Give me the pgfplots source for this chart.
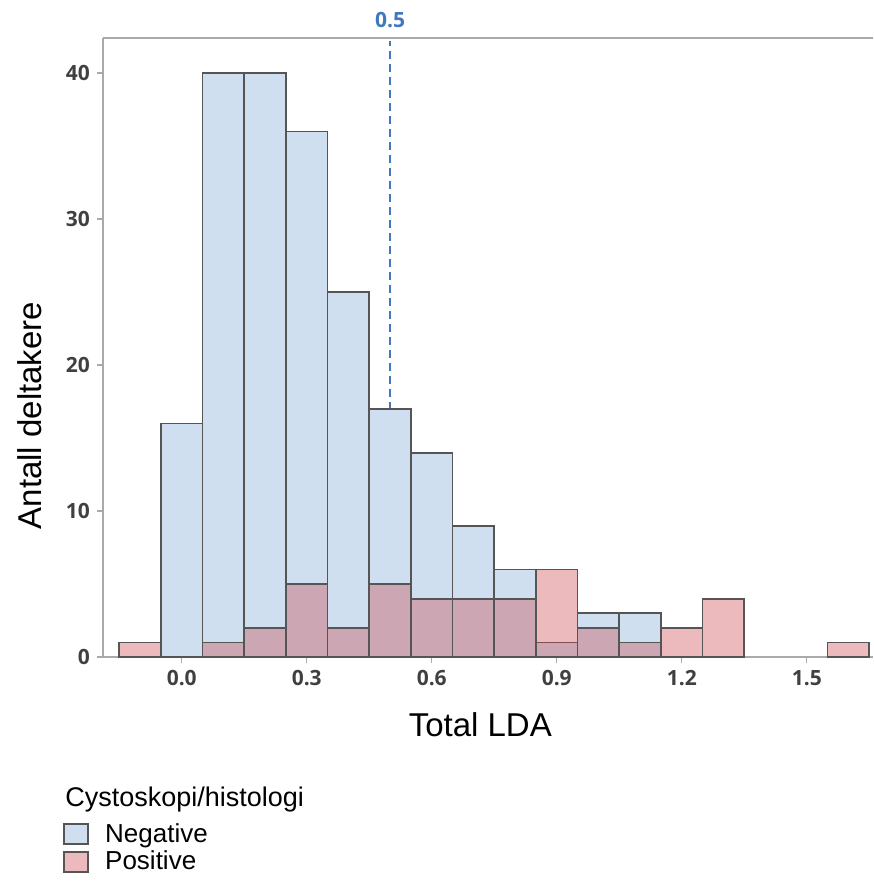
\documentclass[border=0pt]{standalone}
\usepackage{fontspec}
\setmainfont{Liberation Sans}
\newfontfamily\tickfont{Open Sans}
\usepackage{pgfplots}
\pgfplotsset{compat=1.18}

\definecolor{NegBlue}{RGB}{207,223,240}
\definecolor{PosRed}{RGB}{204,69,77}
\definecolor{BarEdge}{RGB}{85,85,85}
\definecolor{AxisGrey}{RGB}{170,170,170}
\definecolor{TickText}{RGB}{64,64,64}
\definecolor{RefBlue}{RGB}{66,118,190}

% counts per bin (bin width 0.1, centred on the value)
\pgfplotstableread{
x     n
0.0   16
0.1   40
0.2   40
0.3   36
0.4   25
0.5   17
0.6   14
0.7   9
0.8   6
0.9   1
1.0   3
1.1   3
}\negdata
\pgfplotstableread{
x     n
-0.1  1
0.1   1
0.2   2
0.3   5
0.4   2
0.5   5
0.6   4
0.7   4
0.8   4
0.9   6
1.0   2
1.1   1
1.2   2
1.3   4
1.6   1
}\posdata

\begin{document}
\begin{tikzpicture}
\useasboundingbox (-51.5pt,-115.5pt) rectangle (385pt,328.5pt);
\begin{axis}[
    scale only axis,
    width=385pt, height=309.5pt,
    xmin=-0.189, xmax=1.659,
    ymin=0, ymax=42.4,
    ybar, bar width=0.1, bar shift=0pt,
    clip=false,
    axis x line*=box, axis y line*=left,
    axis line style={draw=AxisGrey, line width=0.9pt, -},
    xtick={0,0.3,0.6,0.9,1.2,1.5},
    ytick={0,10,20,30,40},
    xtick pos=bottom,
    tick align=outside,
    major tick length=3pt,
    tick style={draw=AxisGrey, line width=0.6pt},
    /pgf/number format/assume math mode=true,
    tick label style={font=\tickfont\bfseries\fontsize{10.5}{12}\selectfont, color=TickText},
    xticklabel style={/pgf/number format/.cd, fixed, fixed zerofill, precision=1},
    every axis y label/.style={at={([xshift=-36.5pt]axis description cs:0,0.39)}, rotate=90, anchor=center},
    every axis x label/.style={at={([yshift=-34pt]axis description cs:0.49,0)}, anchor=center},
    label style={font=\fontsize{16.5}{18}\selectfont},
    xlabel={Total LDA},
    ylabel={Antall deltakere},
    legend style={at={(axis description cs:0,0)}, anchor=north west,
        xshift=-23pt, yshift=-79pt, draw=none, fill=none,
        font=\fontsize{13}{15}\selectfont, row sep=-1.2pt,
        nodes={inner xsep=8pt},
        legend cell align=left},
    legend image code/.code={\draw[#1, line width=0.9pt] (0pt,-5pt) rectangle (12pt,5pt);},
]
\addplot[sharp plot, draw=RefBlue, line width=1pt, dash pattern=on 4pt off 2.5pt, forget plot]
    coordinates {(0.5,0) (0.5,42.2)};

% fills first, then outlines, so neighbouring bars do not hide each other's edges
\addplot[fill=NegBlue, draw=none, forget plot] table[x=x, y=n] {\negdata};
\addplot[fill=none, draw=BarEdge, line width=0.9pt, forget plot] table[x=x, y=n] {\negdata};
\addplot[fill=PosRed, fill opacity=0.37, draw=none, forget plot] table[x=x, y=n] {\posdata};
\addplot[fill=none, draw=BarEdge, line width=0.9pt, forget plot] table[x=x, y=n] {\posdata};

\addlegendimage{fill=NegBlue, draw=BarEdge}
\addlegendentry{Negative}
\addlegendimage{fill=PosRed, fill opacity=0.37, draw=BarEdge, draw opacity=1}
\addlegendentry{Positive}

\node[anchor=base, font=\tickfont\bfseries\fontsize{10.5}{12}\selectfont, text=RefBlue]
    at ([yshift=5pt]axis cs:0.5,42.4) {0.5};
\node[anchor=west, font=\fontsize{13.5}{15}\selectfont, inner sep=0pt]
    at ([xshift=-19pt,yshift=-71.5pt]axis description cs:0,0) {Cystoskopi/histologi};
\end{axis}
\end{tikzpicture}
\end{document}
